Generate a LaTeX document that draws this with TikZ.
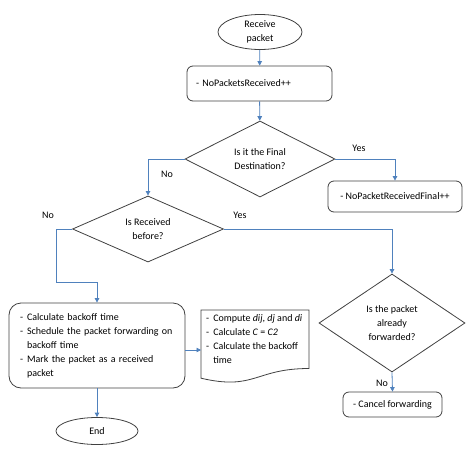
\documentclass[tikz,border=0pt]{standalone}
\usepackage{fontspec}
\setmainfont{Carlito}
\usetikzlibrary{shapes.geometric,arrows.meta,calc}
\definecolor{arrowblue}{HTML}{4F81BD}
\definecolor{shapegray}{HTML}{404040}
\begin{document}
\begin{tikzpicture}[x=1pt,y=-1pt,
  every node/.style={font=\fontsize{10}{14}\selectfont, text=black},
  shapeline/.style={draw=shapegray, line width=0.8pt},
  rbox/.style={shapeline, rectangle, rounded corners=6pt, inner sep=0pt},
  ell/.style={shapeline, ellipse, inner sep=0pt, align=center},
  dia/.style={shapeline, diamond, inner sep=0pt, align=center},
  arr/.style={draw=arrowblue, line width=0.8pt, -{Triangle[width=4.5pt,length=4.5pt]}},
  lbl/.style={inner sep=0pt}]
\useasboundingbox (0,0) rectangle (474,453);

% nodes
\node[ell, minimum width=84pt, minimum height=35pt] (start) at (260,32) {Receive\\packet};
\node[rbox, minimum width=145pt, minimum height=35pt, text width=127pt, inner xsep=9pt, align=left] (recv) at (259.5,83.5) {- NoPacketsReceived++};
\node[dia, minimum width=150pt, minimum height=76pt] (final) at (260,159) {Is it the Final\\Destination?};
\node[rbox, minimum width=134pt, minimum height=31pt] (finbox) at (395,196.5) {- NoPacketReceivedFinal++};
\node[dia, minimum width=151pt, minimum height=64pt] (before) at (148,229) {Is Received\\before?};
\node[dia, minimum width=146pt, minimum height=98pt] (fwd) at (392,323) {Is the packet\\already\\forwarded?};
\node[rbox, minimum width=99pt, minimum height=25pt] (cancel) at (392.5,404.5) {- Cancel forwarding};
\node[rbox, rounded corners=12pt, minimum width=176pt, minimum height=85pt, text width=154pt, inner xsep=11pt, align=left] (calc) at (97,345.5)
  {\begin{tabular}{@{}l@{\hspace{4pt}}l@{}}
   - & Calculate backoff time\\
   - & Schedule the packet forwarding on\\
     & backoff time\\
   - & Mark the packet as a received\\
     & packet
   \end{tabular}};
\node[anchor=north west, inner xsep=5pt, inner ysep=1.5pt] (doc) at (201,310)
  {\begin{tabular}{@{}l@{\hspace{4pt}}l@{}}
   - & Compute \textit{dij}, \textit{dj} and \textit{di}\\
   - & Calculate \textit{C} = \textit{C2}\\
   - & Calculate the backoff\\
     & time
   \end{tabular}};
\draw[shapeline] (doc.north west) -- ($(doc.north west)+(108,0)$) -- ($(doc.north west)+(108,58.5)$)
  .. controls ($(doc.north west)+(54,58.5)$) and ($(doc.north west)+(54,80.8)$) .. ($(doc.north west)+(0,68.2)$) -- cycle;
\node[ell, minimum width=82pt, minimum height=27pt] (end) at (97,431) {End};

% labels
\node[lbl] (yes1) at (359,148) {Yes};
\node[lbl] (no1) at (167,174) {No};
\node[lbl] (no2) at (48,215) {No};
\node[lbl] (yes2) at (240,215) {Yes};
\node[lbl] (no3) at (382,383) {No};

% connectors
\coordinate (bend1) at (56,282);
\coordinate (bend2) at (97,282);
\draw[arr] (start) -- (recv);
\draw[arr] (recv) -- (final);
\draw[arr] (final.east) -| (finbox.north);
\draw[arr] (final.west) -| (before.north);
\draw[arr] (before.east) -| (fwd.north);
\draw[arr] (before.west) -| (bend1) -- (bend2) -- (calc.north);
\draw[arr] ([yshift=-4.5pt]calc.east) -- ($(doc.north west)+(0,40)$);
\draw[arr] (fwd.south) -- (cancel.north);
\draw[arr] (calc.south) -- (end.north);
\end{tikzpicture}
\end{document}
